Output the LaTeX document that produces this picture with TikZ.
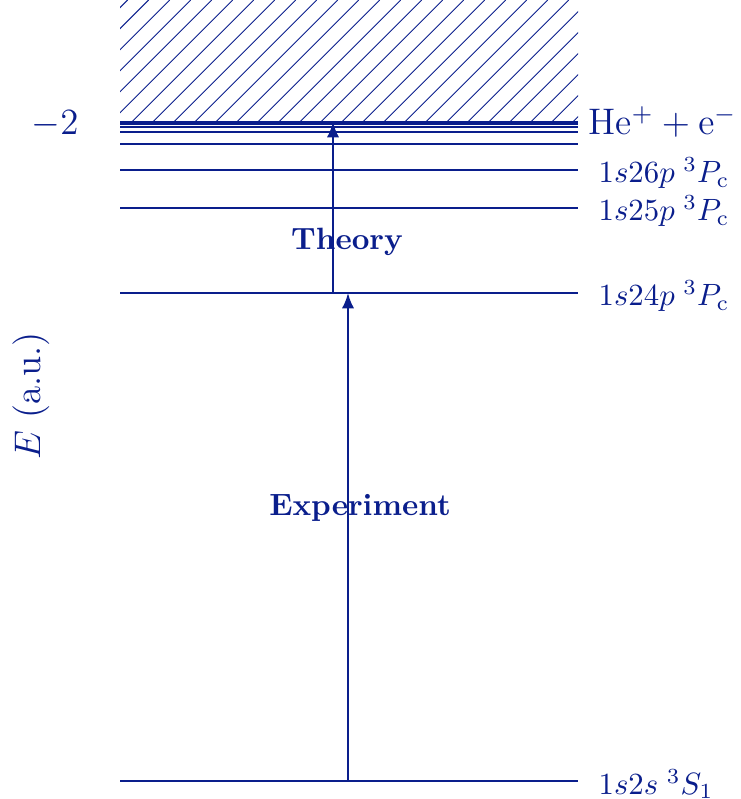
\documentclass[tikz,border=0pt]{standalone}
\usetikzlibrary{arrows.meta}
\definecolor{ink}{RGB}{10,30,140}
\begin{document}
\begin{tikzpicture}[x=0.3247pt,y=-0.3247pt,
  level/.style={draw=ink,line width=0.7pt},
  hatchline/.style={draw=ink,line width=0.32pt},
  trans/.style={draw=ink,line width=0.7pt,-{Latex[length=5pt,width=4pt]}},
  lab/.style={text=ink,anchor=west,inner sep=0pt},
  every node/.style={text=ink}]
\useasboundingbox (0,0) rectangle (740,799);
% hatched continuum
\begin{scope}
\clip (120,0) rectangle (578,122);
\foreach \c in {127.7,148.7,...,720} {
  \draw[hatchline] (\c,0) -- ++(-140,140);
}
\end{scope}
% levels
\foreach \n/\y in {lim/122,l11/124.3,l10/126.6,l9/131.7,l8/144.3,l6/170,l5/208,l4/293,g/781} {
  \coordinate (\n a) at (120,\y);
  \coordinate (\n b) at (578,\y);
  \draw[level] (\n a) -- (\n b);
}
% labels
\node[lab] (labg) at (598,784) {$1s2s\;{}^3S_1$};
\node[lab] (lab4) at (598,296) {$1s24p\;{}^3P_{\rm c}$};
\node[lab] (lab5) at (598,211) {$1s25p\;{}^3P_{\rm c}$};
\node[lab] (lab6) at (598,173) {$1s26p\;{}^3P_{\rm c}$};
\node[lab,font=\large] (labl) at (588,122) {He$^+ + {\rm e}^-$};
\node[anchor=east,inner sep=0pt,font=\large] (m2) at (79,124) {$-2$};
\node[rotate=90,font=\large] (ax) at (31,396) {$E$ (a.u.)};
% transitions
\coordinate (ea) at (348,781);
\coordinate (eb) at (348,293);
\draw[trans] (ea) -- (eb);
\coordinate (ta) at (333,293);
\coordinate (tb) at (333,122);
\draw[trans] (ta) -- (tb);
\node[font=\bfseries] (exp) at (360,508) {Experiment};
\node[font=\bfseries] (th) at (347,242) {Theory};
\end{tikzpicture}
\end{document}
